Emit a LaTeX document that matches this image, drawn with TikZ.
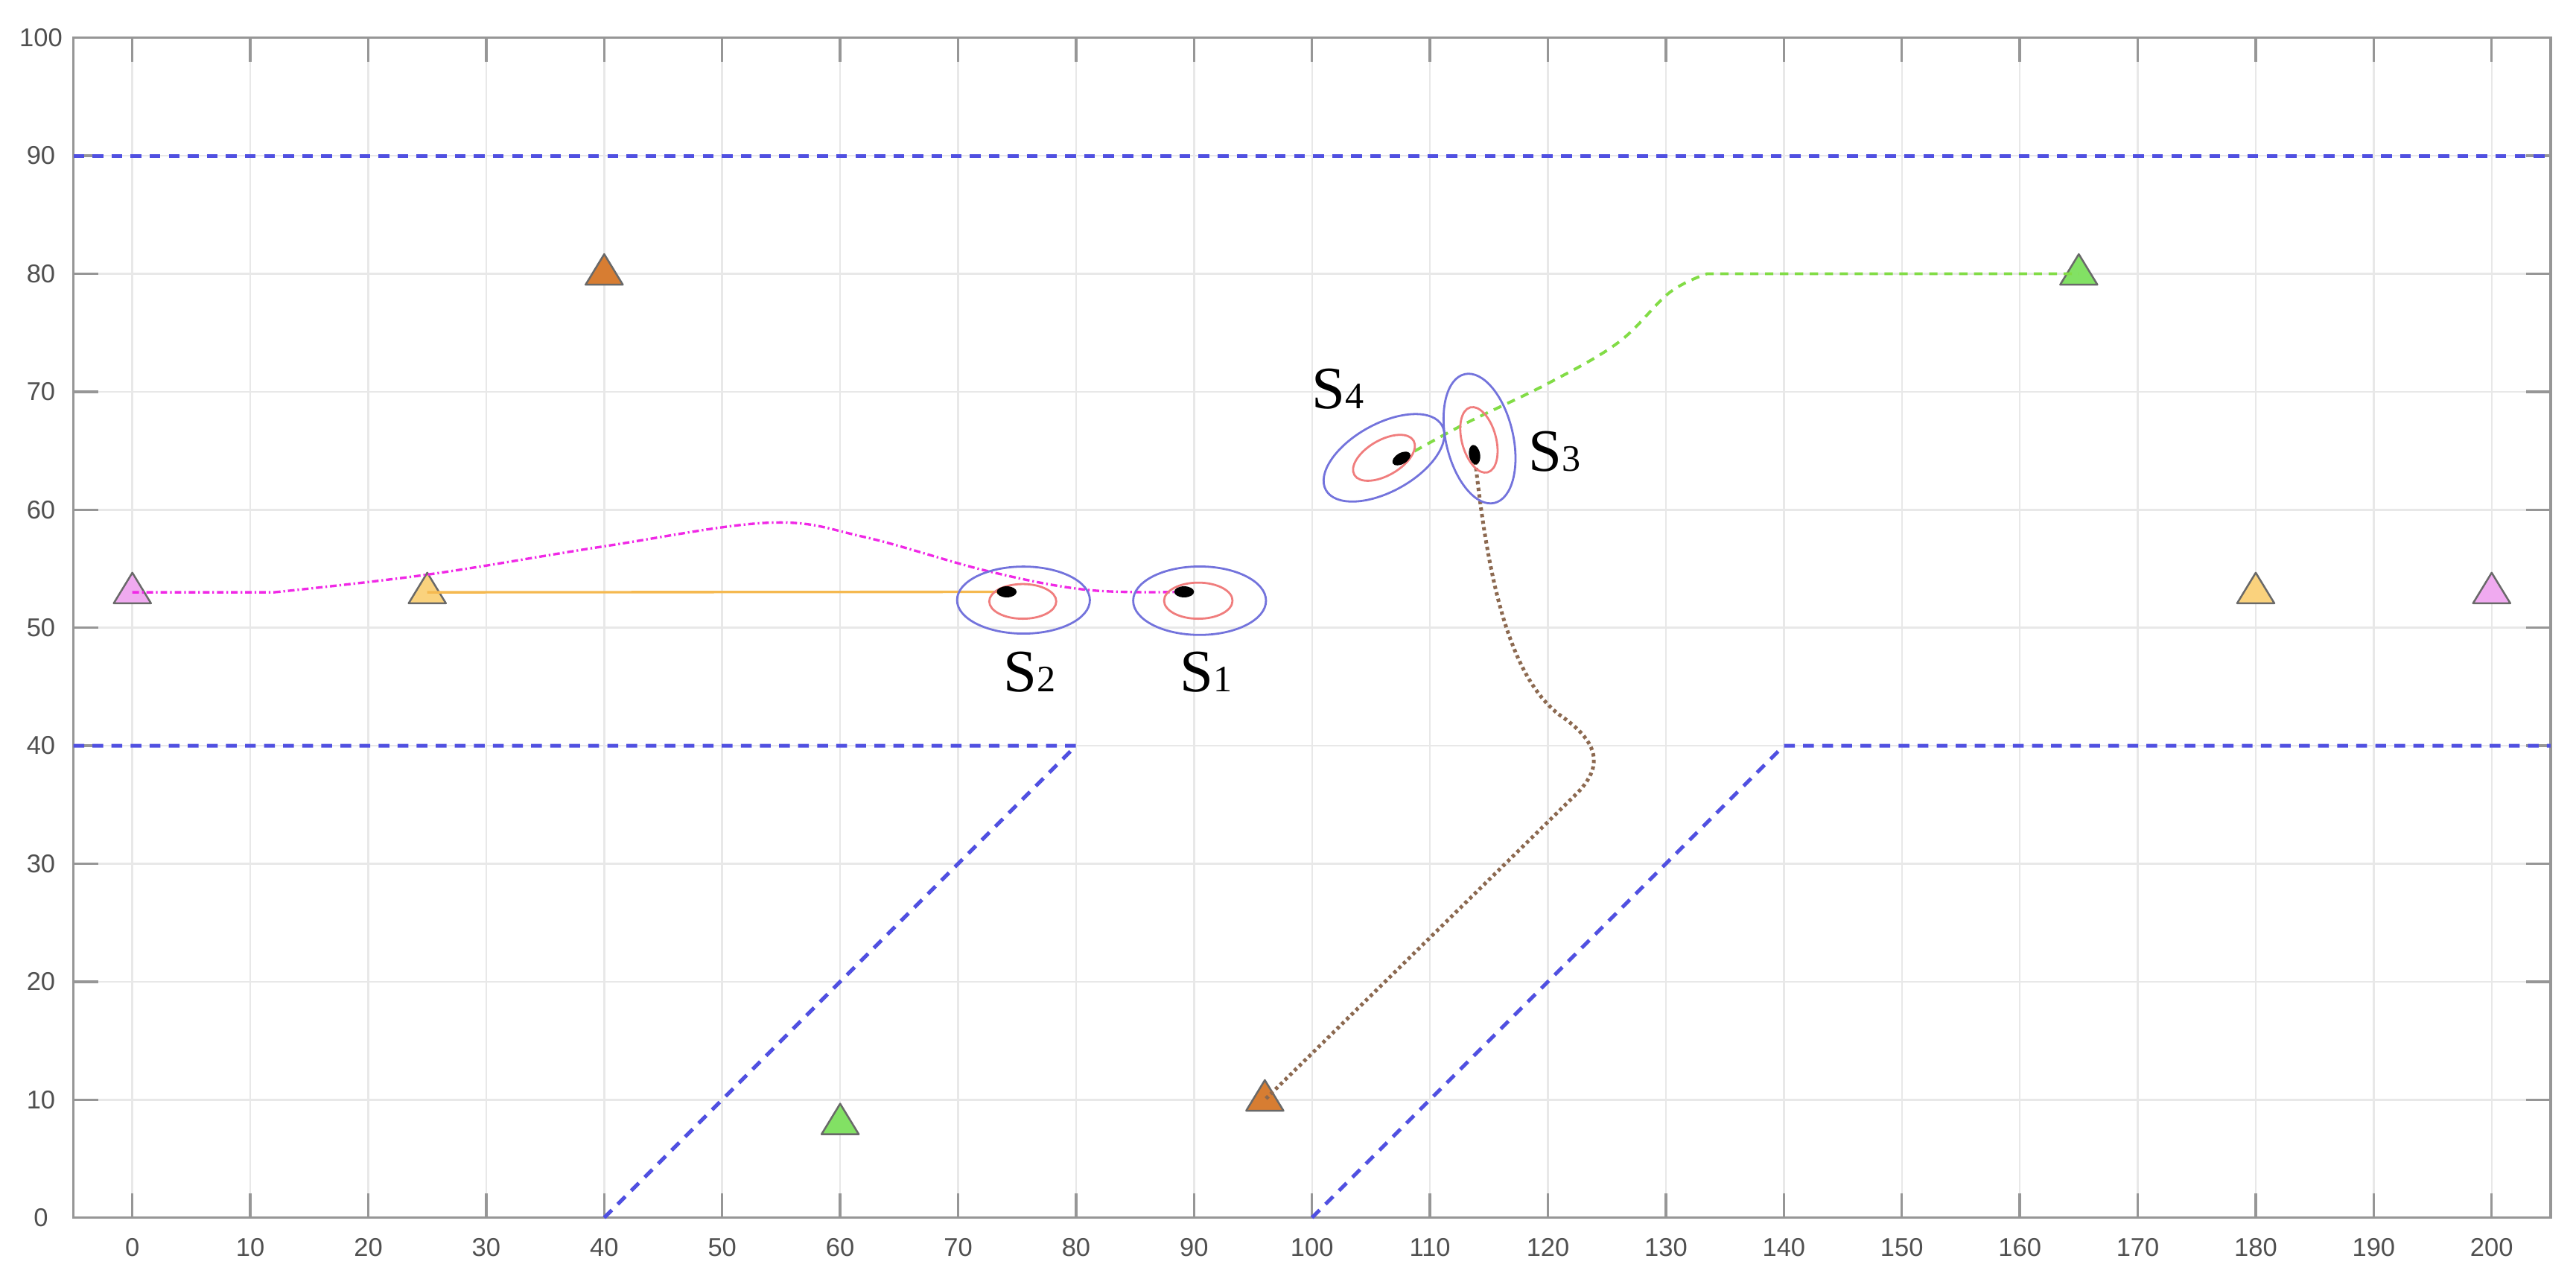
\documentclass[tikz,border=0pt]{standalone}
\usepackage{fontspec}
\setmainfont{Liberation Serif}
\newfontfamily\axisfont{Liberation Sans}
\usepackage{tikz}
\definecolor{gridgray}{RGB}{232,232,232}
\definecolor{axisgray}{RGB}{150,150,150}
\definecolor{ticktext}{RGB}{80,80,80}
\definecolor{laneblue}{RGB}{80,80,225}
\definecolor{ellblue}{RGB}{115,115,220}
\definecolor{ellred}{RGB}{240,125,125}
\definecolor{pathmag}{RGB}{240,40,230}
\definecolor{pathorange}{RGB}{245,185,80}
\definecolor{pathgreen}{RGB}{130,220,70}
\definecolor{pathbrown}{RGB}{140,105,80}
\definecolor{trimgray}{RGB}{105,105,105}
\definecolor{trpink}{RGB}{240,170,240}
\definecolor{trorange}{RGB}{250,210,125}
\definecolor{trbrown}{RGB}{215,125,50}
\definecolor{trgreen}{RGB}{130,225,100}
\newcommand{\vehlabel}[1]{S{\fontsize{9}{9}\selectfont #1}}

\tikzset{
  gridline/.style={gridgray, line width=0.45pt},
  axisline/.style={axisgray, line width=0.6pt},
  ticklabel/.style={font=\axisfont\fontsize{6.2}{7}\selectfont, text=ticktext, inner sep=0pt},
  lane/.style={laneblue, line width=0.9pt, dash pattern=on 2.6pt off 2pt},
  ellout/.style={ellblue, line width=0.5pt},
  ellin/.style={ellred, line width=0.5pt},
  vlabel/.style={font=\fontsize{14.5}{16}\selectfont, inner sep=0pt, anchor=base west},
  goal/.pic={\filldraw[fill=#1, draw=trimgray, line width=0.45pt, line join=round]
    (-1.58,-0.93) -- (1.58,-0.93) -- (0,1.66) -- cycle;},
}

\begin{document}
\begin{tikzpicture}[x=1mm, y=1mm]
\useasboundingbox (-11.22,-5.415) rectangle (207.15,103.2);
\fill[white] (-11.22,-5.415) rectangle (207.15,103.2);
%--- grid ---
\foreach \x in {0,10,...,200} \draw[gridline] (\x,0) -- (\x,100);
\foreach \y in {10,20,...,90} \draw[gridline] (-5,\y) -- (205,\y);
%--- axes box, ticks, labels ---
\draw[axisline] (-5,0) rectangle (205,100);
\foreach \x in {0,10,...,200} {
  \draw[axisline] (\x,0) -- ++(0,2.07);
  \draw[axisline] (\x,100) -- ++(0,-2.07);
  \node[ticklabel] (xl\x) at (\x,-2.5) {\x};
}
\foreach \y in {0,10,...,100} {
  \draw[axisline] (-5,\y) -- ++(2.1,0);
  \draw[axisline] (205,\y) -- ++(-2.1,0);
  \node[ticklabel] (yl\y) at (-7.75,\y) {\y};
}
%--- lane borders ---
\draw[lane] (-5,90) -- (205,90);
\draw[lane] (-5,40) -- (80,40) -- (40,0);
\draw[lane] (100,0) -- (140,40) -- (205,40);
%--- start / goal points ---
\coordinate (p1) at (0,53);
\coordinate (p2) at (200,53);
\coordinate (o1) at (25,53);
\coordinate (o2) at (180,53);
\coordinate (b1) at (40,80);
\coordinate (b2) at (96,10);
\coordinate (g1) at (165,80);
\coordinate (g2) at (60,8);
\pic (tp1) at (p1) {goal=trpink};
\pic (tp2) at (p2) {goal=trpink};
\pic (to1) at (o1) {goal=trorange};
\pic (to2) at (o2) {goal=trorange};
\pic (tb1) at (b1) {goal=trbrown};
\pic (tb2) at (b2) {goal=trbrown};
\pic (tg1) at (g1) {goal=trgreen};
\pic (tg2) at (g2) {goal=trgreen};
%--- vehicles ---
\coordinate (v1) at (89.16,53.04);
\coordinate (v2) at (74.12,53.04);
\coordinate (v3) at (113.78,64.66);
\coordinate (v4) at (107.58,64.34);
%--- trajectories ---
\draw[pathorange, line width=0.6pt] (o1) -- (v2);
\draw[pathmag, line width=0.6pt, dash pattern=on 1.6pt off 0.7pt on 0.4pt off 0.7pt]
  (p1) -- (12,53) plot[smooth, tension=0.6] coordinates {(12,53) (25,54.5) (40,56.9)
  (54,58.9) (62,57.7) (72.5,54.8) (81,53.2) (v1)};
\draw[pathgreen, line width=0.7pt, dash pattern=on 2pt off 1.6pt]
  plot[smooth, tension=0.6] coordinates {(v4) (113,67.3) (120,70.7) (126,74.2)
  (130.3,78.4) (133.5,80)} -- (g1);
\draw[pathbrown, line width=0.9pt, dash pattern=on 0.8pt off 0.8pt]
  (v3) .. controls (114.8,55) and (116.5,46) .. (121,42.6)
  .. controls (124.5,40.2) and (124.6,38.2) .. (122.5,36) -- (b2);
%--- uncertainty ellipses ---
\draw[ellout] (90.47,52.29) circle [x radius=5.63, y radius=2.9];
\draw[ellin] (90.36,52.29) circle [x radius=2.9, y radius=1.53];
\draw[ellout] (75.54,52.34) circle [x radius=5.63, y radius=2.84];
\draw[ellin] (75.48,52.23) circle [x radius=2.84, y radius=1.47];
\draw[ellout] (106.1,64.4) circle [x radius=5.63, y radius=2.87, rotate=29];
\draw[ellin] (106.1,64.4) circle [x radius=2.9, y radius=1.5, rotate=30];
\draw[ellout] (114.2,66.03) circle [x radius=5.6, y radius=2.85, rotate=103];
\draw[ellin] (114.15,65.92) circle [x radius=2.85, y radius=1.45, rotate=105];
\fill (v1) circle [x radius=0.84, y radius=0.47];
\fill (v2) circle [x radius=0.84, y radius=0.47];
\fill (v3) circle [x radius=0.84, y radius=0.47, rotate=100];
\fill (v4) circle [x radius=0.84, y radius=0.47, rotate=30];
%--- vehicle labels ---
\node[vlabel] (s1) at (88.74,44.55) {\vehlabel{1}};
\node[vlabel] (s2) at (73.8,44.55) {\vehlabel{2}};
\node[vlabel] (s3) at (118.3,63.29) {\vehlabel{3}};
\node[vlabel] (s4) at (99.9,68.56) {\vehlabel{4}};
\end{tikzpicture}
\end{document}
